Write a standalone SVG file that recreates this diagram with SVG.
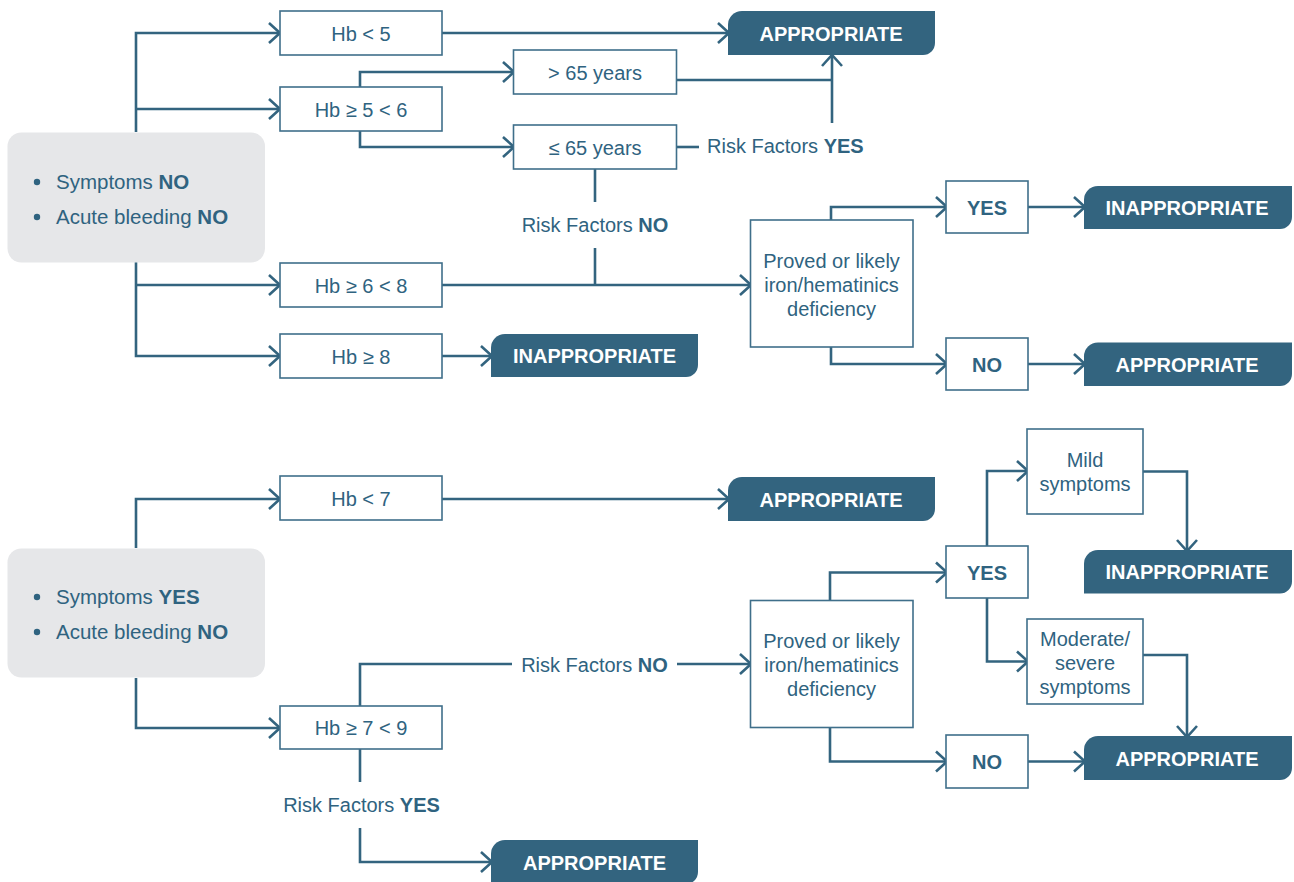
<svg xmlns="http://www.w3.org/2000/svg" width="1294" height="882" viewBox="0 0 1294 882">
<style>
text{font-family:"Liberation Sans",Arial,sans-serif;font-size:20px;fill:#2F6380}
.c{text-anchor:middle}
.b{font-weight:bold}
.w{fill:#fff;font-weight:bold}
.g{font-size:20.5px}
.box{fill:#fff;stroke:#3F6F8A;stroke-width:1.6}
.term{fill:#33647F}
.grey{fill:#E6E7E9}
.ln{fill:none;stroke:#33647F;stroke-width:2.6}
.ar{marker-end:url(#arr)}
</style>
<defs>
<marker id="arr" viewBox="-14 -12 16 24" markerWidth="16" markerHeight="24" refX="-1" refY="0" orient="auto" markerUnits="userSpaceOnUse">
<path d="M-11,-10 L0,0 L-11,10" fill="none" stroke="#33647F" stroke-width="2.6"/>
</marker>
</defs>

<g id="connectors">
<path class="ln ar" d="M136,132 V33 H279"/>
<path class="ln ar" d="M136,109 H279"/>
<path class="ln ar" d="M136,262 V356 H279"/>
<path class="ln ar" d="M136,285 H279"/>
<path class="ln ar" d="M442,33 H728"/>
<path class="ln ar" d="M360,87 V72 H513"/>
<path class="ln ar" d="M360,131 V147 H513"/>
<path class="ln" d="M676,80 H832"/>
<path class="ln ar" d="M832,123 V56"/>
<path class="ln" d="M676,147 H699"/>
<path class="ln" d="M595,169 V202"/>
<path class="ln" d="M595,248 V285"/>
<path class="ln ar" d="M442,285 H750"/>
<path class="ln ar" d="M442,356 H491"/>
<path class="ln ar" d="M831,220 V207 H946"/>
<path class="ln ar" d="M1028,207 H1084"/>
<path class="ln ar" d="M831,347 V364 H946"/>
<path class="ln ar" d="M1028,364 H1084"/>

<path class="ln ar" d="M136,548 V499 H279"/>
<path class="ln ar" d="M442,499 H728"/>
<path class="ln ar" d="M136,678 V728 H279"/>
<path class="ln" d="M360,706 V664 H512"/>
<path class="ln ar" d="M677,664 H750"/>
<path class="ln" d="M360,749 V782"/>
<path class="ln ar" d="M360,828 V862 H491"/>
<path class="ln ar" d="M830,600 V572.5 H946"/>
<path class="ln ar" d="M830,727 V761.5 H946"/>
<path class="ln ar" d="M1028,761.5 H1084"/>
<path class="ln ar" d="M987,546 V471 H1027"/>
<path class="ln ar" d="M987,598 V661.5 H1027"/>
<path class="ln ar" d="M1143,471.5 H1187 V550"/>
<path class="ln ar" d="M1143,655 H1187 V736"/>
</g>

<g id="labels">
<text x="707" y="153">Risk Factors <tspan class="b">YES</tspan></text>
<text class="c" x="595" y="232">Risk Factors <tspan class="b">NO</tspan></text>
<text class="c" x="594.5" y="671.5">Risk Factors <tspan class="b">NO</tspan></text>
<text class="c" x="361.5" y="811.5">Risk Factors <tspan class="b">YES</tspan></text>
</g>

<g id="start1">
<rect class="grey" x="7.5" y="132.5" width="257.5" height="130" rx="14"/>
<circle cx="37" cy="182" r="3.2" fill="#2F6380"/>
<circle cx="37" cy="217" r="3.2" fill="#2F6380"/>
<text class="g" x="56" y="189">Symptoms <tspan class="b">NO</tspan></text>
<text class="g" x="56" y="224">Acute bleeding <tspan class="b">NO</tspan></text>
</g>
<g id="start2">
<rect class="grey" x="7.5" y="548.5" width="257.5" height="129" rx="14"/>
<circle cx="37" cy="597" r="3.2" fill="#2F6380"/>
<circle cx="37" cy="632" r="3.2" fill="#2F6380"/>
<text class="g" x="56" y="604">Symptoms <tspan class="b">YES</tspan></text>
<text class="g" x="56" y="639">Acute bleeding <tspan class="b">NO</tspan></text>
</g>

<g id="hb5"><rect class="box" x="280" y="11" width="162" height="44"/><text class="c" x="361" y="40.5">Hb &lt; 5</text></g>
<g id="hb56"><rect class="box" x="280" y="87" width="162" height="44"/><text class="c" x="361" y="116.5">Hb ≥ 5 &lt; 6</text></g>
<g id="hb68"><rect class="box" x="280" y="263" width="162" height="44"/><text class="c" x="361" y="292.5">Hb ≥ 6 &lt; 8</text></g>
<g id="hb8"><rect class="box" x="280" y="334" width="162" height="44"/><text class="c" x="361" y="363.5">Hb ≥ 8</text></g>
<g id="gt65"><rect class="box" x="513.5" y="50" width="163" height="44"/><text class="c" x="595" y="79.5">&gt; 65 years</text></g>
<g id="le65"><rect class="box" x="513.5" y="125" width="163" height="44"/><text class="c" x="595" y="154.5">≤ 65 years</text></g>
<g id="proved1"><rect class="box" x="750.5" y="220" width="162.5" height="127"/>
<text class="c" x="831.5" y="268">Proved or likely</text><text class="c" x="831.5" y="292">iron/hematinics</text><text class="c" x="831.5" y="316">deficiency</text></g>
<g id="yes1"><rect class="box" x="946" y="181" width="82" height="52"/><text class="c b" x="987" y="214.5">YES</text></g>
<g id="no1"><rect class="box" x="946" y="338" width="82" height="52"/><text class="c b" x="987" y="371.5">NO</text></g>

<g id="hb7"><rect class="box" x="280" y="476" width="162" height="44"/><text class="c" x="361" y="505.5">Hb &lt; 7</text></g>
<g id="hb79"><rect class="box" x="280" y="706" width="162" height="43"/><text class="c" x="361" y="735">Hb ≥ 7 &lt; 9</text></g>
<g id="proved2"><rect class="box" x="750.5" y="600.5" width="162.5" height="127"/>
<text class="c" x="831.5" y="648">Proved or likely</text><text class="c" x="831.5" y="672">iron/hematinics</text><text class="c" x="831.5" y="696">deficiency</text></g>
<g id="yes2"><rect class="box" x="946" y="546" width="82" height="52"/><text class="c b" x="987" y="579.5">YES</text></g>
<g id="no2"><rect class="box" x="946" y="735" width="82" height="53"/><text class="c b" x="987" y="768.5">NO</text></g>
<g id="mild"><rect class="box" x="1027" y="429" width="116" height="85"/><text class="c" x="1085" y="467">Mild</text><text class="c" x="1085" y="491">symptoms</text></g>
<g id="moderate"><rect class="box" x="1027" y="619" width="116" height="85"/><text class="c" x="1085" y="646">Moderate/</text><text class="c" x="1085" y="670">severe</text><text class="c" x="1085" y="694">symptoms</text></g>

<g id="t1"><path class="term" d="M742,11 H935 V43 A12,12 0 0 1 923,55 H728 V25 A14,14 0 0 1 742,11 Z"/><text class="c w" x="831" y="40.5">APPROPRIATE</text></g>
<g id="t2"><path class="term" d="M505,334 H698 V365 A12,12 0 0 1 686,377 H491 V348 A14,14 0 0 1 505,334 Z"/><text class="c w" x="594.5" y="363">INAPPROPRIATE</text></g>
<g id="t3"><path class="term" d="M1098,186 H1292 V217 A12,12 0 0 1 1280,229 H1084 V200 A14,14 0 0 1 1098,186 Z"/><text class="c w" x="1187" y="215">INAPPROPRIATE</text></g>
<g id="t4"><path class="term" d="M1098,342.5 H1292 V374 A12,12 0 0 1 1280,386 H1084 V356.5 A14,14 0 0 1 1098,342.5 Z"/><text class="c w" x="1187" y="371.5">APPROPRIATE</text></g>
<g id="t5"><path class="term" d="M742,477 H935 V509 A12,12 0 0 1 923,521 H728 V491 A14,14 0 0 1 742,477 Z"/><text class="c w" x="831" y="506.5">APPROPRIATE</text></g>
<g id="t6"><path class="term" d="M1098,550 H1292 V581.5 A12,12 0 0 1 1280,593.5 H1084 V564 A14,14 0 0 1 1098,550 Z"/><text class="c w" x="1187" y="579">INAPPROPRIATE</text></g>
<g id="t7"><path class="term" d="M1098,736 H1292 V768 A12,12 0 0 1 1280,780 H1084 V750 A14,14 0 0 1 1098,736 Z"/><text class="c w" x="1187" y="765.5">APPROPRIATE</text></g>
<g id="t8"><path class="term" d="M505,840 H698 V872 A12,12 0 0 1 686,884 H491 V854 A14,14 0 0 1 505,840 Z"/><text class="c w" x="594.5" y="869.5">APPROPRIATE</text></g>
</svg>
